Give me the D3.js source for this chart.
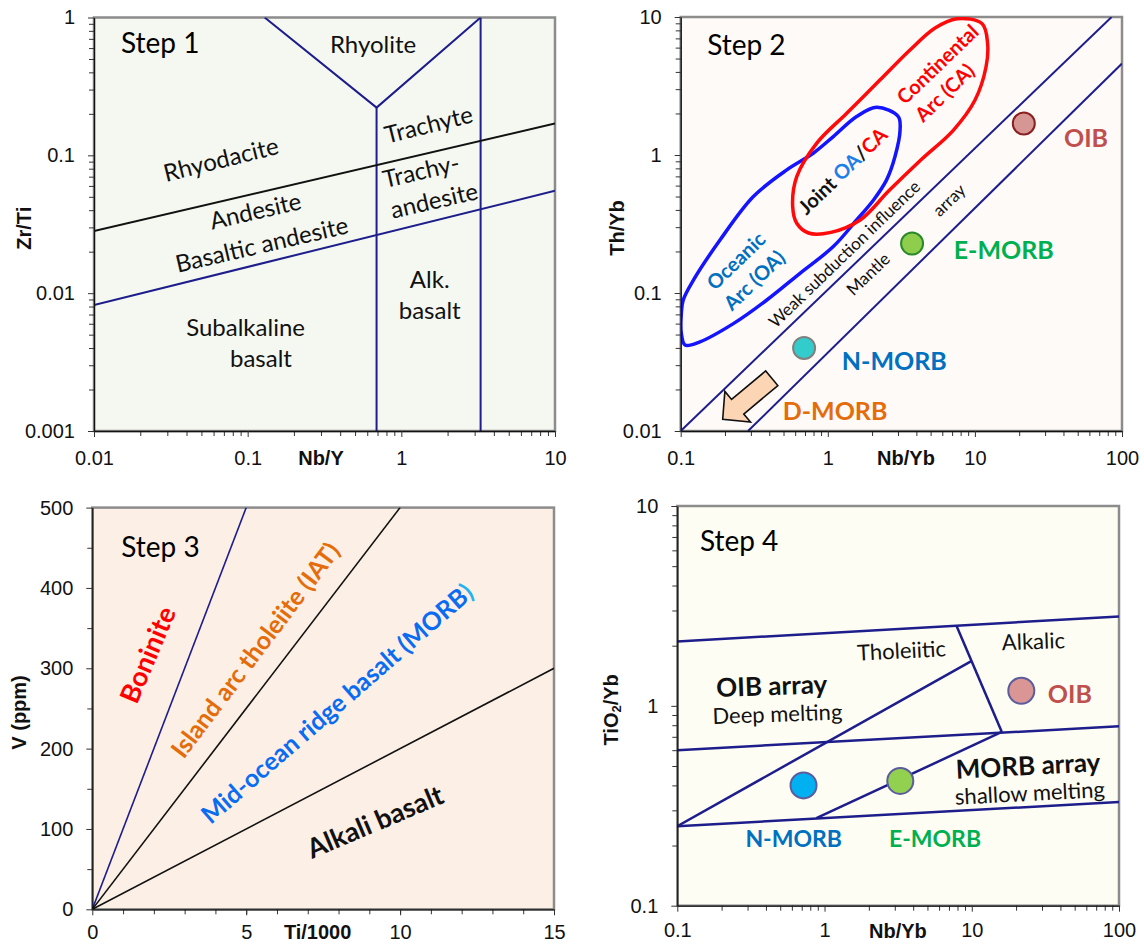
<!DOCTYPE html>
<html>
<head>
<meta charset="utf-8">
<script src="https://cdn.jsdelivr.net/npm/d3@7"></script>
<style>
  body { margin: 0; background: #fff; }
  svg { display: block; }
  .lbl { font-family: Lato, "Open Sans", sans-serif; }
  .tick text { font-family: "Liberation Sans", Arial, sans-serif; font-size: 20px; fill: #111; }
  .ttl { font-family: "Liberation Sans", Arial, sans-serif; font-size: 20px; font-weight: 700; fill: #111; }
</style>
</head>
<body>
<script>
// ---------------- Step 1: Zr/Ti vs Nb/Y ----------------
const s1XTicks = [0.01, 0.1, 1, 10];
const s1YTicks = [0.001, 0.01, 0.1, 1];
const s1Rhyolite = [[0.129, 1], [0.69, 0.222], [3.28, 1]];
const s1AlkaliDivide = [[0.69, 0.222], [0.69, 0.001]];
const s1TrachyteDivide = [[3.28, 1], [3.28, 0.001]];
const s1AndesiteLine = [[0.01, 0.0282], [10, 0.170]];
const s1BasaltLine = [[0.01, 0.0082], [10, 0.0553]];
const s1Labels = [
  {text: "Rhyolite", x: 0.655, y: 0.648, rot: 0},
  {text: "Trachyte", x: 1.50, y: 0.170, rot: -14},
  {text: "Rhyodacite", x: 0.0668, y: 0.0948, rot: -14},
  {text: "Trachy-", x: 1.34, y: 0.0783, rot: -13},
  {text: "andesite", x: 1.63, y: 0.0478, rot: -13},
  {text: "Andesite", x: 0.112, y: 0.0401, rot: -13},
  {text: "Basaltic andesite", x: 0.123, y: 0.0229, rot: -13},
  {text: "Alk.", x: 1.53, y: 0.01277, rot: 0},
  {text: "basalt", x: 1.53, y: 0.0076, rot: 0},
  {text: "Subalkaline", x: 0.0969, y: 0.0057, rot: 0},
  {text: "basalt", x: 0.122, y: 0.00341, rot: 0}
];

// ---------------- Step 2: Th/Yb vs Nb/Yb ----------------
const s2XTicks = [0.1, 1, 10, 100];
const s2YTicks = [0.01, 0.1, 1, 10];
const s2MantleUpper = [[0.1, 0.01], [85, 10]];
const s2MantleLower = [[0.287, 0.01], [100, 4.6]];
const s2OceanicArc = [
  [2.15, 2.22], [3.01, 1.90], [3.10, 1.52], [2.86, 0.97], [2.51, 0.66], [2.04, 0.47],
  [1.57, 0.338], [1.09, 0.217], [0.647, 0.139], [0.385, 0.089], [0.228, 0.060],
  [0.135, 0.0443], [0.107, 0.042], [0.101, 0.051], [0.101, 0.0713], [0.104, 0.089],
  [0.122, 0.124], [0.185, 0.242], [0.312, 0.50], [0.526, 0.78], [0.796, 1.03],
  [1.09, 1.36], [1.57, 1.90]
];
const s2ContinentalArc = [
  [1.05, 0.275], [1.66, 0.338], [2.6, 0.55], [4.27, 0.916], [7.13, 1.51], [10.0, 2.49],
  [11.9, 4.34], [12.2, 6.41], [11.2, 8.94], [7.55, 9.72], [5.36, 8.32], [3.62, 5.77],
  [2.26, 3.49], [1.34, 2.00], [0.842, 1.22], [0.615, 0.697], [0.577, 0.422],
  [0.615, 0.32], [0.74, 0.272]
];
const s2Basalts = [
  {name: "N-MORB", nbYb: 0.69, thYb: 0.040},
  {name: "E-MORB", nbYb: 3.74, thYb: 0.228},
  {name: "OIB", nbYb: 21.5, thYb: 1.69}
];
const s2DepletionArrow = {from: [0.416, 0.0241], to: [0.193, 0.01217]};

// ---------------- Step 3: V vs Ti/1000 ----------------
const s3XTicks = [0, 5, 10, 15];
const s3YTicks = [0, 100, 200, 300, 400, 500];
const s3TiVLines = [
  {ratio: "Ti/V = 10", pts: [[0, 0], [5, 500]]},
  {ratio: "Ti/V = 20", pts: [[0, 0], [10, 500]]},
  {ratio: "Ti/V = 50", pts: [[0, 0], [15, 300]]}
];

// ---------------- Step 4: TiO2/Yb vs Nb/Yb ----------------
const s4XTicks = [0.1, 1, 10, 100];
const s4YTicks = [0.1, 1, 10];
const s4UpperLine = [[0.1, 2.1], [100, 2.8]];
const s4MiddleLine = [[0.1, 0.6], [100, 0.79]];
const s4LowerLine = [[0.1, 0.25], [100, 0.33]];
const s4OibFloor = [[0.1, 0.25], [10, 1.68]];
const s4AlkalicDivide = [[7.9, 2.5], [16, 0.74]];
const s4MorbDiagonal = [[0.88, 0.274], [16, 0.74]];
const s4Basalts = [
  {name: "N-MORB", nbYb: 0.72, tiYb: 0.40},
  {name: "E-MORB", nbYb: 3.27, tiYb: 0.421},
  {name: "OIB", nbYb: 21.7, tiYb: 1.19}
];

// ---------------- drawing ----------------
const NAVY = "#1d1d8c";
const BLUE_TXT = "#0070c0";
const svg = d3.select("body").append("svg").attr("width", 1144).attr("height", 945);

function logMinors(lo, hi) {
  const out = [];
  for (let e = Math.round(Math.log10(lo)); e < Math.round(Math.log10(hi)); e++) {
    for (let k = 2; k <= 9; k++) out.push(k * Math.pow(10, e));
  }
  return out;
}
const fmtLog = d => d3.format("~g")(d);

function panel(cfg) {
  const g = svg.append("g");
  const x = cfg.x, y = cfg.y;
  const [xa, xb] = x.range(), [ya, yb] = y.range();
  const id = "clip" + cfg.key;
  g.append("clipPath").attr("id", id).append("rect")
    .attr("x", xa).attr("y", yb).attr("width", xb - xa).attr("height", ya - yb);
  g.append("rect").attr("x", xa).attr("y", yb).attr("width", xb - xa).attr("height", ya - yb)
    .attr("fill", cfg.fill).attr("stroke", "#8c8c8c").attr("stroke-width", 2.5);
  const marks = g.append("g").attr("clip-path", `url(#${id})`);
  const over = g.append("g");

  // minor ticks
  g.append("g").attr("transform", `translate(0,${ya})`)
    .call(d3.axisBottom(x).tickValues(cfg.xMinor).tickSize(5).tickSizeOuter(0).tickFormat(""))
    .call(a => a.select(".domain").remove())
    .selectAll("line").attr("stroke", "#333");
  g.append("g").attr("transform", `translate(${xa},0)`)
    .call(d3.axisLeft(y).tickValues(cfg.yMinor).tickSize(5).tickSizeOuter(0).tickFormat(""))
    .call(a => a.select(".domain").remove())
    .selectAll("line").attr("stroke", "#333");
  // major ticks
  const xAx = g.append("g").attr("transform", `translate(0,${ya})`)
    .call(d3.axisBottom(x).tickValues(cfg.xTicks).tickSize(6).tickSizeOuter(0)
      .tickPadding(cfg.labelGap - 13.5).tickFormat(cfg.fmt));
  const yAx = g.append("g").attr("transform", `translate(${xa},0)`)
    .call(d3.axisLeft(y).tickValues(cfg.yTicks).tickSize(6).tickSizeOuter(0).tickPadding(13).tickFormat(cfg.fmt));
  [xAx, yAx].forEach(a => {
    a.select(".domain").attr("stroke", "#111").attr("stroke-width", 1.3);
    a.selectAll(".tick line").attr("stroke", "#333");
  });
  // axis titles
  g.append("text").attr("class", "ttl").attr("x", x(cfg.xTitleAt)).attr("y", ya + cfg.labelGap)
    .attr("text-anchor", "middle").attr("dominant-baseline", "central").text(cfg.xTitle);
  const yt = g.append("text").attr("class", "ttl")
    .attr("transform", `translate(${xa + cfg.yTitleOffset},${(ya + yb) / 2 + 4}) rotate(-90)`)
    .attr("text-anchor", "middle").attr("dominant-baseline", "central");
  if (cfg.yTitleParts) {
    cfg.yTitleParts.forEach(p => {
      const t = yt.append("tspan").text(p.text);
      if (p.sub) t.attr("font-size", "13px").attr("dy", "5");
      if (p.after) t.attr("dy", "-5");
    });
  } else yt.text(cfg.yTitle);
  // step label
  over.append("text").attr("class", "lbl").attr("x", xa + cfg.stepDx).attr("y", yb + cfg.stepDy)
    .attr("dominant-baseline", "central").style("font-size", "28px").text(cfg.step);
  return {g, marks, over, x, y};
}

const lineGen = (x, y) => d3.line().x(d => x(d[0])).y(d => y(d[1]));

function addText(layer, x, y, d, size, weight, color) {
  const t = layer.append("text").attr("class", "lbl")
    .attr("transform", `translate(${x(d.x)},${y(d.y)}) rotate(${d.rot || 0})`)
    .attr("text-anchor", "middle").attr("dominant-baseline", "central")
    .style("font-size", size + "px").style("font-weight", weight).attr("fill", color);
  if (d.parts) d.parts.forEach(p => t.append("tspan").attr("fill", p.color).text(p.text));
  else t.text(d.text);
}

// ===== Panel 1 =====
{
  const x = d3.scaleLog().domain([0.01, 10]).range([94, 555]);
  const y = d3.scaleLog().domain([0.001, 1]).range([431, 17.5]);
  const p = panel({key: 1, x, y, fill: "#f5f8f0", xTicks: s1XTicks, yTicks: s1YTicks,
    xMinor: logMinors(0.01, 10), yMinor: logMinors(0.001, 1), fmt: fmtLog, labelGap: 27,
    xTitle: "Nb/Y", xTitleAt: 0.30, yTitle: "Zr/Ti", yTitleOffset: -70,
    step: "Step 1", stepDx: 27, stepDy: 24});
  const L = lineGen(x, y);
  [s1Rhyolite, s1AlkaliDivide, s1TrachyteDivide, s1BasaltLine].forEach(pts =>
    p.marks.append("path").attr("d", L(pts)).attr("fill", "none").attr("stroke", NAVY).attr("stroke-width", 2));
  p.marks.append("path").attr("d", L(s1AndesiteLine)).attr("fill", "none").attr("stroke", "#111").attr("stroke-width", 2);
  s1Labels.forEach(d => addText(p.over, x, y, d, 24, 400, "#111"));
}

// ===== Panel 2 =====
{
  const x = d3.scaleLog().domain([0.1, 100]).range([680.7, 1122]);
  const y = d3.scaleLog().domain([0.01, 10]).range([431, 17]);
  const p = panel({key: 2, x, y, fill: "#fefaf7", xTicks: s2XTicks, yTicks: s2YTicks,
    xMinor: logMinors(0.1, 100), yMinor: logMinors(0.01, 10), fmt: fmtLog, labelGap: 27,
    xTitle: "Nb/Yb", xTitleAt: 3.4, yTitle: "Th/Yb", yTitleOffset: -64,
    step: "Step 2", stepDx: 26.5, stepDy: 27});
  const L = lineGen(x, y);
  [s2MantleUpper, s2MantleLower].forEach(pts =>
    p.marks.append("path").attr("d", L(pts)).attr("fill", "none").attr("stroke", NAVY).attr("stroke-width", 2));
  const closed = d3.line().x(d => x(d[0])).y(d => y(d[1])).curve(d3.curveCatmullRomClosed.alpha(0.5));
  p.marks.append("path").attr("d", closed(s2OceanicArc)).attr("fill", "none").attr("stroke", "#1414ff").attr("stroke-width", 3.5);
  p.marks.append("path").attr("d", closed(s2ContinentalArc)).attr("fill", "none").attr("stroke", "#ff0a0a").attr("stroke-width", 3.5);

  // depletion arrow toward D-MORB
  const t0 = [x(s2DepletionArrow.from[0]), y(s2DepletionArrow.from[1])];
  const t1 = [x(s2DepletionArrow.to[0]), y(s2DepletionArrow.to[1])];
  const len = Math.hypot(t1[0] - t0[0], t1[1] - t0[1]);
  const ux = (t1[0] - t0[0]) / len, uy = (t1[1] - t0[1]) / len, nx = -uy, ny = ux;
  const headLen = 19.5, headHalf = 20, shaftHalf = 9.5;
  const bx = t1[0] - ux * headLen, by = t1[1] - uy * headLen;
  const poly = [
    [t0[0] + nx * shaftHalf, t0[1] + ny * shaftHalf], [bx + nx * shaftHalf, by + ny * shaftHalf],
    [bx + nx * headHalf, by + ny * headHalf], t1,
    [bx - nx * headHalf, by - ny * headHalf], [bx - nx * shaftHalf, by - ny * shaftHalf],
    [t0[0] - nx * shaftHalf, t0[1] - ny * shaftHalf]
  ];
  p.marks.append("path").attr("d", "M" + poly.map(q => q.join(",")).join("L") + "Z")
    .attr("fill", "#fcd5b5").attr("stroke", "#111").attr("stroke-width", 1.6).attr("stroke-linejoin", "miter");

  const style2 = {"N-MORB": ["#33cccc", "#808080"], "E-MORB": ["#8fce4c", "#2a8a2a"], "OIB": ["#d69694", "#8b2020"]};
  p.marks.selectAll("circle.pt").data(s2Basalts).join("circle")
    .attr("cx", d => x(d.nbYb)).attr("cy", d => y(d.thYb)).attr("r", 11)
    .attr("fill", d => style2[d.name][0]).attr("stroke", d => style2[d.name][1]).attr("stroke-width", 2);

  const R = -44;
  addText(p.over, x, y, {text: "OIB", x: 56.9, y: 1.35}, 25, 700, "#c0504d");
  addText(p.over, x, y, {text: "E-MORB", x: 15.7, y: 0.2094}, 25, 700, "#00b050");
  addText(p.over, x, y, {text: "N-MORB", x: 2.83, y: 0.0325}, 25, 700, BLUE_TXT);
  addText(p.over, x, y, {text: "D-MORB", x: 1.12, y: 0.01413}, 25, 700, "#e46c0a");
  addText(p.over, x, y, {text: "Weak subduction influence", x: 1.29, y: 0.1927, rot: R}, 17, 400, "#111");
  addText(p.over, x, y, {text: "Mantle", x: 1.87, y: 0.138, rot: R}, 17, 400, "#111");
  addText(p.over, x, y, {text: "array", x: 6.65, y: 0.474, rot: R}, 17, 400, "#111");
  addText(p.over, x, y, {text: "Oceanic", x: 0.2355, y: 0.1726, rot: R}, 20, 700, BLUE_TXT);
  addText(p.over, x, y, {text: "Arc (OA)", x: 0.313, y: 0.1248, rot: R}, 20, 700, BLUE_TXT);
  addText(p.over, x, y, {text: "Continental", x: 5.52, y: 4.59, rot: R}, 20, 700, "#ff0000");
  addText(p.over, x, y, {text: "Arc (CA)", x: 6.18, y: 2.86, rot: R}, 20, 700, "#ff0000");
  addText(p.over, x, y, {x: 1.25, y: 0.775, rot: R,
    parts: [{text: "Joint ", color: "#111"}, {text: "OA", color: "#1f7fe8"}, {text: "/", color: "#111"}, {text: "CA", color: "#ff0000"}]},
    20, 700, "#111");
}

// ===== Panel 3 =====
{
  const x = d3.scaleLinear().domain([0, 15]).range([92.3, 554]);
  const y = d3.scaleLinear().domain([0, 500]).range([909.3, 507.6]);
  const p = panel({key: 3, x, y, fill: "#fcefe5", xTicks: s3XTicks, yTicks: s3YTicks,
    xMinor: d3.range(1, 15), yMinor: d3.range(50, 500, 100), fmt: d3.format("d"), labelGap: 23,
    xTitle: "Ti/1000", xTitleAt: 7.32, yTitle: "V (ppm)", yTitleOffset: -73,
    step: "Step 3", stepDx: 29, stepDy: 38});
  const L = lineGen(x, y);
  s3TiVLines.forEach((d, i) =>
    p.marks.append("path").attr("d", L(d.pts)).attr("fill", "none")
      .attr("stroke", i === 0 ? NAVY : "#111").attr("stroke-width", 1.6));
  addText(p.over, x, y, {text: "Boninite", x: 1.777, y: 317.4, rot: -67}, 27, 700, "#ff0000");
  addText(p.over, x, y, {text: "Island arc tholeiite (IAT)", x: 5.27, y: 323.6, rot: -53}, 25, 700, "#e46c0a");
  addText(p.over, x, y, {x: 7.93, y: 257.3, rot: -41,
    parts: [{text: "Mid-ocean ridge basalt (MORB", color: "#0a6cf0"}, {text: ")", color: "#22b4f0"}]}, 25, 700, "#0a6cf0");
  addText(p.over, x, y, {text: "Alkali basalt", x: 9.175, y: 110, rot: -23}, 27, 700, "#111");
}

// ===== Panel 4 =====
{
  const x = d3.scaleLog().domain([0.1, 100]).range([677.3, 1119]);
  const y = d3.scaleLog().domain([0.1, 10]).range([905.7, 506]);
  const p = panel({key: 4, x, y, fill: "#fefdf3", xTicks: s4XTicks, yTicks: s4YTicks,
    xMinor: logMinors(0.1, 100), yMinor: logMinors(0.1, 10), fmt: fmtLog, labelGap: 25,
    xTitle: "Nb/Yb", xTitleAt: 3.15, yTitleOffset: -66.7,
    yTitleParts: [{text: "TiO"}, {text: "2", sub: true}, {text: "/Yb", after: true}],
    step: "Step 4", stepDx: 22.6, stepDy: 34});
  const L = lineGen(x, y);
  [s4UpperLine, s4MiddleLine, s4LowerLine, s4OibFloor, s4AlkalicDivide, s4MorbDiagonal].forEach(pts =>
    p.marks.append("path").attr("d", L(pts)).attr("fill", "none").attr("stroke", NAVY).attr("stroke-width", 2.5));
  const fill4 = {"N-MORB": "#00b0f0", "E-MORB": "#92d050", "OIB": "#d99694"};
  p.marks.selectAll("circle.pt").data(s4Basalts).join("circle")
    .attr("cx", d => x(d.nbYb)).attr("cy", d => y(d.tiYb)).attr("r", 13)
    .attr("fill", d => fill4[d.name]).attr("stroke", "#5c5c9e").attr("stroke-width", 2);
  addText(p.over, x, y, {text: "Tholeiitic", x: 3.33, y: 1.904, rot: -3}, 22, 400, "#111");
  addText(p.over, x, y, {text: "Alkalic", x: 26.2, y: 2.12, rot: -2}, 22, 400, "#111");
  addText(p.over, x, y, {text: "OIB array", x: 0.4375, y: 1.27, rot: -2}, 26, 700, "#111");
  addText(p.over, x, y, {text: "Deep melting", x: 0.478, y: 0.918, rot: -2}, 22, 400, "#111");
  addText(p.over, x, y, {text: "MORB array", x: 24.1, y: 0.506, rot: -3}, 26, 700, "#111");
  addText(p.over, x, y, {text: "shallow melting", x: 24.8, y: 0.369, rot: -3}, 22, 400, "#111");
  addText(p.over, x, y, {text: "OIB", x: 46.4, y: 1.164}, 25, 700, "#c0504d");
  addText(p.over, x, y, {text: "N-MORB", x: 0.617, y: 0.2175}, 23, 700, BLUE_TXT);
  addText(p.over, x, y, {text: "E-MORB", x: 5.63, y: 0.2175}, 23, 700, "#00b050");
}
</script>
</body>
</html>
